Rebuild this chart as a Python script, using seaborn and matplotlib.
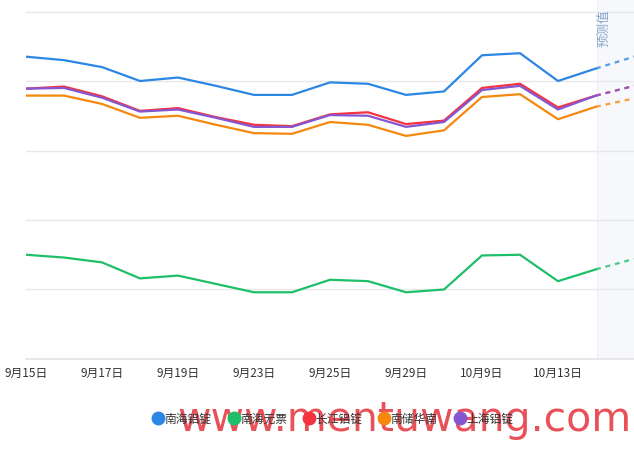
import numpy as np
import pandas as pd
import matplotlib
matplotlib.use("Agg")
import matplotlib.pyplot as plt
from matplotlib.lines import Line2D
import seaborn as sns

# Dates (last one is the forecast point)
dates = ['9月15日', '9月16日', '9月17日', '9月18日', '9月19日', '9月22日', '9月23日',
         '9月24日', '9月25日', '9月26日', '9月29日', '9月30日', '10月9日', '10月10日',
         '10月13日', '10月14日', '10月15日']

nanhai = [20735, 20730, 20720, 20700, 20705, 20693, 20680, 20680, 20698, 20696,
          20680, 20685, 20737, 20740, 20700, 20718, 20735]
nanhai_wupiao = [20450, 20446, 20439, 20416, 20420, 20408, 20396, 20396, 20414, 20412,
                 20396, 20400, 20449, 20450, 20412, 20429, 20444]
changjiang = [20689, 20692, 20678, 20657, 20661, 20648, 20637, 20635, 20652, 20655,
              20638, 20643, 20690, 20696, 20662, 20679, 20693]
nanchu = [20679, 20679, 20667, 20647, 20650, 20637, 20625, 20624, 20641, 20637,
          20621, 20629, 20677, 20681, 20645, 20663, 20675]
shanghai = [20689, 20690, 20676, 20656, 20659, 20647, 20634, 20634, 20651, 20650,
            20634, 20641, 20687, 20693, 20659, 20679, 20693]

names = ['南海铝锭', '南海无票', '长江铝锭', '南储华南', '上海铝锭']
series = [nanhai, nanhai_wupiao, changjiang, nanchu, shanghai]
colors = ['#2b87e3', '#1fbf6a', '#f5333f', '#f5880d', '#8655d0']

sns.set_style('white')
plt.rcParams['font.family'] = ['Noto Sans CJK SC', 'DejaVu Sans']

W, H = 634, 451
fig = plt.figure(figsize=(W / 100, H / 100), dpi=100)
ax = fig.add_axes([26 / W, 1 - 359 / H, (W - 26) / W, 359 / H])

n_actual = len(dates) - 1
x_all = np.arange(len(dates))

# forecast shaded area
ax.axvspan(n_actual - 1 + 0.03, n_actual + 1, color='#f6f8fb', zorder=0, lw=0)
ax.axvline(n_actual - 1 + 0.03, color='#edf0f5', lw=0.8, zorder=0)

for name, vals, c in zip(names, series, colors):
    df = pd.DataFrame({'x': x_all, 'y': vals})
    sns.lineplot(data=df.iloc[:n_actual], x='x', y='y', color=c, lw=1.6, ax=ax,
                 legend=False, zorder=3)
    sns.lineplot(data=df.iloc[n_actual - 1:], x='x', y='y', color=c, lw=1.6, ax=ax,
                 linestyle=(0, (2.2, 2.2)), zorder=3, alpha=0.8, legend=False)

ax.set_xlim(0, n_actual)
ax.set_ylim(20300, 20300 + 359 * 100 / 69.5)
ax.set_yticks(np.arange(20400, 20900, 100))
ax.yaxis.grid(True, color='#e8e8e8', lw=1)
ax.tick_params(axis='y', left=False, labelleft=False)
ax.set_xticks(x_all[:n_actual:2])
ax.set_xticklabels(dates[:n_actual:2], fontsize=8.5, color='#333333')
ax.tick_params(axis='x', length=0, pad=6)
ax.set_xlabel('')
ax.set_ylabel('')
for s in ['top', 'right', 'left']:
    ax.spines[s].set_visible(False)
ax.spines['bottom'].set_color('#e3e3e3')
ax.spines['bottom'].set_linewidth(1.2)

ax.text(n_actual - 1 + 0.05, 20300 + (359 - 28) * 100 / 69.5, '预测值', rotation=90,
        ha='left', va='center', fontsize=9, color='#86a5cc')

hs = [Line2D([], [], marker='o', ls='', color=c, markersize=9) for c in colors]
fig.legend(hs, names, loc='center', bbox_to_anchor=(333 / W, 1 - 419 / H), ncol=5,
           frameon=False, fontsize=8.5, handletextpad=0.1, columnspacing=1.4,
           handlelength=0.9, labelcolor='#333333')

# watermark
fig.text(404 / W, 1 - 420 / H, 'www.mentuwang.com', ha='center', va='center',
         fontsize=29.5, color='#e8424a', alpha=0.92, family=['DejaVu Sans'])

fig.savefig('out.png', dpi=100)
